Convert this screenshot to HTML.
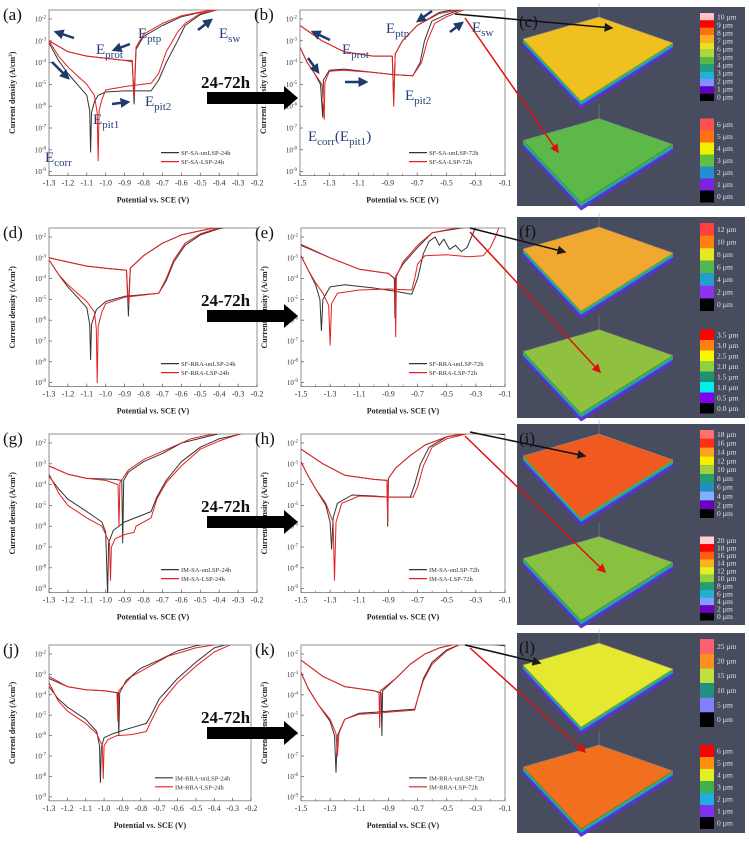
<!DOCTYPE html>
<html><head><meta charset="utf-8"><style>
html,body{margin:0;padding:0;background:#fff;}
svg{display:block;}
text{font-family:"Liberation Serif",serif;}
</style></head><body>
<svg id="fig" width="749" height="851" viewBox="0 0 749 851" xmlns="http://www.w3.org/2000/svg">
<defs>
<marker id="ahB" markerWidth="6" markerHeight="6" refX="5" refY="3" orient="auto"><path d="M0,0 L6,3 L0,6 z" fill="#1a1a1a"/></marker>
<marker id="ahR" markerWidth="6" markerHeight="6" refX="5" refY="3" orient="auto"><path d="M0,0 L6,3 L0,6 z" fill="#e01010"/></marker>
<marker id="ahN" markerWidth="4" markerHeight="4" refX="3" refY="2" orient="auto"><path d="M0,0 L4,2 L0,4 z" fill="#1f3a6e"/></marker>
</defs>
</svg>
<script>
// ---- data (potential V, log10 current density) ----
const aBlackFwd=[[-1.3,-3.1],[-1.25,-3.9],[-1.2,-4.5],[-1.15,-5],[-1.1,-5.5],[-1.085,-6.2],[-1.08,-8.1],[-1.075,-6.3],[-1.06,-5.8],[-1.04,-5.5],[-1.0,-5.35],[-0.9,-5.3],[-0.76,-5.3],[-0.72,-4.8],[-0.68,-4.0],[-0.62,-3.0],[-0.58,-2.3],[-0.5,-1.8],[-0.4,-1.55],[-0.3,-1.4]];
const aBlackRev=[[-0.3,-1.4],[-0.45,-1.6],[-0.6,-1.9],[-0.7,-2.3],[-0.8,-2.8],[-0.84,-3.4],[-0.85,-5.9],[-0.86,-3.95],[-0.9,-3.9],[-1.0,-3.8],[-1.1,-3.7],[-1.2,-3.5],[-1.3,-3.0]];
const aRedFwd=[[-1.3,-3.0],[-1.25,-3.7],[-1.2,-4.2],[-1.15,-4.6],[-1.1,-5.0],[-1.06,-5.5],[-1.045,-6.3],[-1.04,-8.5],[-1.035,-6.2],[-1.02,-5.7],[-1.0,-5.25],[-0.9,-5.1],[-0.76,-4.95],[-0.72,-4.5],[-0.68,-3.5],[-0.62,-2.6],[-0.58,-2.2],[-0.5,-1.75],[-0.4,-1.55],[-0.3,-1.4]];
const aRedRev=[[-0.3,-1.4],[-0.45,-1.6],[-0.6,-1.85],[-0.7,-2.2],[-0.8,-2.7],[-0.84,-3.3],[-0.85,-5.6],[-0.86,-3.9],[-0.9,-3.9],[-1.0,-3.8],[-1.1,-3.7],[-1.2,-3.5],[-1.3,-3.0]];

const bBlackFwd=[[-1.5,-3.3],[-1.45,-4.0],[-1.4,-4.5],[-1.36,-5.0],[-1.345,-6.5],[-1.34,-4.8],[-1.3,-4.35],[-1.2,-4.3],[-1.0,-4.45],[-0.86,-4.55],[-0.73,-4.6],[-0.68,-4.0],[-0.65,-3.0],[-0.6,-2.1],[-0.5,-1.8],[-0.35,-1.45],[-0.1,-1.55]];
const bBlackRev=[[-0.35,-1.45],[-0.55,-1.7],[-0.7,-2.3],[-0.8,-3.0],[-0.85,-3.6],[-0.86,-5.8],[-0.87,-3.7],[-1.0,-3.7],[-1.2,-3.5],[-1.35,-3.0],[-1.5,-2.3]];
const bRedFwd=[[-1.5,-3.3],[-1.45,-4.0],[-1.4,-4.5],[-1.35,-5.0],[-1.335,-6.6],[-1.33,-4.9],[-1.3,-4.4],[-1.2,-4.35],[-1.0,-4.45],[-0.86,-4.55],[-0.73,-4.6],[-0.67,-4.0],[-0.63,-3.0],[-0.58,-2.2],[-0.5,-1.9],[-0.35,-1.5],[-0.15,-1.4]];
const bRedRev=[[-0.35,-1.5],[-0.55,-1.75],[-0.7,-2.3],[-0.8,-3.0],[-0.85,-3.6],[-0.86,-6.0],[-0.87,-3.7],[-1.0,-3.7],[-1.2,-3.5],[-1.35,-3.0],[-1.5,-2.3]];

const dBlackFwd=[[-1.3,-3.1],[-1.25,-3.8],[-1.2,-4.4],[-1.15,-4.9],[-1.1,-5.4],[-1.085,-6.2],[-1.08,-7.9],[-1.075,-6.2],[-1.05,-5.5],[-1.0,-5.1],[-0.9,-4.85],[-0.72,-4.7],[-0.68,-4.1],[-0.64,-3.2],[-0.58,-2.4],[-0.5,-1.9],[-0.4,-1.6],[-0.3,-1.4]];
const dBlackRev=[[-0.3,-1.4],[-0.45,-1.6],[-0.6,-1.9],[-0.7,-2.3],[-0.8,-2.9],[-0.87,-3.5],[-0.88,-5.8],[-0.89,-3.6],[-1.0,-3.5],[-1.1,-3.4],[-1.2,-3.2],[-1.3,-3.0]];
const dRedFwd=[[-1.3,-3.1],[-1.25,-3.8],[-1.2,-4.3],[-1.15,-4.7],[-1.1,-5.1],[-1.06,-5.6],[-1.05,-6.4],[-1.045,-9.0],[-1.04,-6.3],[-1.02,-5.6],[-1.0,-5.2],[-0.9,-4.9],[-0.72,-4.7],[-0.68,-4.0],[-0.64,-3.1],[-0.58,-2.3],[-0.5,-1.85],[-0.4,-1.55],[-0.3,-1.4]];
const dRedRev=[[-0.3,-1.4],[-0.45,-1.6],[-0.6,-1.9],[-0.7,-2.3],[-0.8,-2.9],[-0.87,-3.5],[-0.88,-5.3],[-0.89,-3.6],[-1.0,-3.5],[-1.1,-3.4],[-1.2,-3.2],[-1.3,-3.0]];

const eBlackFwd=[[-1.5,-2.9],[-1.45,-3.6],[-1.4,-4.3],[-1.37,-5.0],[-1.36,-6.5],[-1.35,-5.0],[-1.3,-4.4],[-1.2,-4.3],[-1.0,-4.45],[-0.86,-4.6],[-0.74,-4.75],[-0.7,-4.0],[-0.66,-2.8],[-0.62,-2.2],[-0.58,-2.0],[-0.55,-2.4],[-0.52,-2.1],[-0.48,-2.6],[-0.44,-2.4],[-0.4,-2.7],[-0.36,-2.5],[-0.33,-2.0],[-0.3,-1.5],[-0.2,-1.4]];
const eBlackRev=[[-0.3,-1.45],[-0.6,-1.8],[-0.7,-2.5],[-0.8,-3.3],[-0.85,-3.9],[-0.855,-5.9],[-0.86,-4.0],[-0.9,-3.75],[-1.1,-3.55],[-1.3,-3.0],[-1.5,-2.4]];
const eRedFwd=[[-1.5,-2.9],[-1.45,-3.6],[-1.4,-4.2],[-1.35,-4.7],[-1.31,-5.3],[-1.3,-7.2],[-1.29,-5.2],[-1.25,-4.7],[-1.1,-4.55],[-0.9,-4.5],[-0.74,-4.55],[-0.72,-4.0],[-0.7,-3.3],[-0.65,-2.9],[-0.5,-2.85],[-0.35,-2.95],[-0.25,-2.9],[-0.2,-2.5],[-0.16,-1.9],[-0.13,-1.3]];
const eRedRev=[[-0.13,-1.3],[-0.35,-1.45],[-0.6,-1.8],[-0.7,-2.4],[-0.8,-3.2],[-0.845,-3.9],[-0.85,-6.8],[-0.855,-4.0],[-0.9,-3.75],[-1.1,-3.55],[-1.3,-3.0],[-1.5,-2.35]];

const gBlackFwd=[[-1.3,-3.6],[-1.25,-4.2],[-1.2,-4.7],[-1.1,-5.3],[-1.02,-5.8],[-1.0,-6.3],[-0.99,-9.3],[-0.985,-6.8],[-0.96,-6.2],[-0.9,-5.8],[-0.76,-5.3],[-0.73,-4.6],[-0.68,-3.8],[-0.6,-2.9],[-0.5,-2.2],[-0.4,-1.8],[-0.3,-1.6],[-0.2,-1.35]];
const gBlackRev=[[-0.2,-1.35],[-0.4,-1.55],[-0.6,-2.0],[-0.7,-2.5],[-0.8,-2.9],[-0.88,-3.4],[-0.905,-3.8],[-0.91,-6.8],[-0.915,-3.8],[-0.95,-3.75],[-1.1,-3.7],[-1.2,-3.5],[-1.3,-3.1]];
const gRedFwd=[[-1.3,-3.5],[-1.25,-4.4],[-1.2,-5.0],[-1.1,-5.6],[-1.02,-6.0],[-0.98,-6.8],[-0.975,-8.6],[-0.97,-7.0],[-0.95,-6.6],[-0.9,-6.4],[-0.85,-6.3],[-0.84,-6.0],[-0.76,-5.6],[-0.73,-4.7],[-0.68,-3.9],[-0.6,-3.1],[-0.5,-2.3],[-0.4,-1.9],[-0.3,-1.6],[-0.22,-1.35]];
const gRedRev=[[-0.22,-1.35],[-0.4,-1.5],[-0.55,-1.8],[-0.7,-2.4],[-0.8,-2.8],[-0.88,-3.3],[-0.925,-3.9],[-0.93,-6.0],[-0.935,-4.0],[-1.0,-3.8],[-1.1,-3.7],[-1.2,-3.5],[-1.3,-3.1]];

const hBlackFwd=[[-1.5,-2.9],[-1.45,-3.6],[-1.4,-4.2],[-1.33,-5.0],[-1.3,-5.8],[-1.29,-7.1],[-1.28,-5.6],[-1.25,-4.9],[-1.15,-4.5],[-1.0,-4.55],[-0.9,-4.6],[-0.75,-4.6],[-0.72,-4.0],[-0.68,-3.0],[-0.62,-2.2],[-0.5,-1.7],[-0.3,-1.45],[-0.1,-1.6]];
const hBlackRev=[[-0.3,-1.45],[-0.5,-1.7],[-0.65,-2.1],[-0.75,-2.6],[-0.85,-3.2],[-0.9,-3.7],[-0.905,-6.0],[-0.91,-3.8],[-1.0,-3.75],[-1.2,-3.55],[-1.35,-3.0],[-1.5,-2.3]];
const hRedFwd=[[-1.5,-2.9],[-1.45,-3.6],[-1.4,-4.2],[-1.33,-4.9],[-1.28,-5.8],[-1.27,-8.6],[-1.26,-5.8],[-1.22,-4.9],[-1.1,-4.55],[-0.9,-4.6],[-0.73,-4.6],[-0.7,-4.1],[-0.66,-3.1],[-0.6,-2.2],[-0.5,-1.8],[-0.3,-1.45],[-0.22,-1.4]];
const hRedRev=[[-0.22,-1.4],[-0.5,-1.7],[-0.65,-2.1],[-0.75,-2.6],[-0.85,-3.2],[-0.9,-3.7],[-0.905,-5.8],[-0.91,-3.8],[-1.0,-3.75],[-1.2,-3.55],[-1.35,-3.0],[-1.5,-2.3]];

const jBlackFwd=[[-1.3,-3.6],[-1.25,-4.2],[-1.2,-4.6],[-1.1,-5.2],[-1.04,-5.8],[-1.025,-6.5],[-1.02,-8.3],[-1.015,-6.6],[-1.0,-6.1],[-0.95,-5.9],[-0.9,-5.75],[-0.77,-5.4],[-0.75,-5.1],[-0.7,-4.2],[-0.6,-3.2],[-0.5,-2.4],[-0.4,-1.7],[-0.3,-1.45],[-0.2,-1.35]];
const jBlackRev=[[-0.35,-1.35],[-0.5,-1.6],[-0.6,-1.85],[-0.7,-2.3],[-0.8,-2.7],[-0.88,-3.3],[-0.915,-3.9],[-0.92,-6.0],[-0.925,-3.9],[-1.0,-3.8],[-1.1,-3.75],[-1.2,-3.6],[-1.3,-3.2]];
const jRedFwd=[[-1.3,-3.4],[-1.25,-4.3],[-1.2,-4.8],[-1.1,-5.4],[-1.04,-5.9],[-1.01,-6.5],[-1.005,-8.1],[-1.0,-6.5],[-0.98,-6.2],[-0.93,-6.0],[-0.85,-5.95],[-0.77,-5.8],[-0.75,-5.4],[-0.7,-4.5],[-0.6,-3.4],[-0.5,-2.6],[-0.4,-1.9],[-0.3,-1.5],[-0.2,-1.35]];
const jRedRev=[[-0.3,-1.4],[-0.5,-1.7],[-0.65,-2.1],[-0.75,-2.6],[-0.85,-3.1],[-0.92,-3.8],[-0.925,-5.3],[-0.93,-3.9],[-1.0,-3.8],[-1.1,-3.75],[-1.2,-3.6],[-1.3,-3.1]];

const kBlackFwd=[[-1.5,-2.9],[-1.45,-3.7],[-1.38,-4.5],[-1.3,-5.3],[-1.27,-6.0],[-1.26,-7.8],[-1.25,-6.0],[-1.2,-5.2],[-1.1,-4.9],[-0.98,-4.85],[-0.9,-4.8],[-0.72,-4.7],[-0.7,-4.2],[-0.66,-3.2],[-0.6,-2.4],[-0.5,-1.8],[-0.4,-1.5],[-0.3,-1.45],[-0.1,-1.6]];
const kBlackRev=[[-0.4,-1.45],[-0.55,-1.7],[-0.65,-2.0],[-0.75,-2.5],[-0.85,-3.2],[-0.94,-3.8],[-0.945,-6.0],[-0.95,-3.9],[-1.0,-3.8],[-1.2,-3.6],[-1.35,-3.1],[-1.5,-2.3]];
const kRedFwd=[[-1.5,-2.9],[-1.45,-3.7],[-1.38,-4.5],[-1.3,-5.2],[-1.26,-5.9],[-1.25,-7.0],[-1.24,-5.9],[-1.2,-5.2],[-1.1,-4.95],[-0.96,-4.9],[-0.9,-4.85],[-0.72,-4.75],[-0.7,-4.2],[-0.66,-3.3],[-0.6,-2.5],[-0.5,-1.85],[-0.4,-1.5],[-0.3,-1.45],[-0.12,-1.5]];
const kRedRev=[[-0.4,-1.45],[-0.55,-1.7],[-0.65,-2.0],[-0.75,-2.5],[-0.85,-3.2],[-0.955,-3.8],[-0.96,-5.6],[-0.965,-3.9],[-1.0,-3.8],[-1.2,-3.6],[-1.35,-3.1],[-1.5,-2.3]];

const leftTicks=[-1.3,-1.2,-1.1,-1.0,-0.9,-0.8,-0.7,-0.6,-0.5,-0.4,-0.3,-0.2];
const midTicks=[-1.5,-1.3,-1.1,-0.9,-0.7,-0.5,-0.3,-0.1];
const yTickExps=[-2,-3,-4,-5,-6,-7,-8,-9];
const legendA=['SF-SA-unLSP-24h','SF-SA-LSP-24h'];
const legendB=['SF-SA-unLSP-72h','SF-SA-LSP-72h'];
const legendD=['SF-RRA-unLSP-24h','SF-RRA-LSP-24h'];
const legendE=['SF-RRA-unLSP-72h','SF-RRA-LSP-72h'];
const legendG=['IM-SA-unLSP-24h','IM-SA-LSP-24h'];
const legendH=['IM-SA-unLSP-72h','IM-SA-LSP-72h'];
const legendJ=['IM-RRA-unLSP-24h','IM-RRA-LSP-24h'];
const legendK=['IM-RRA-unLSP-72h','IM-RRA-LSP-72h'];

const cTopLabels=['10 µm','9 µm','8 µm','7 µm','6 µm','5 µm','4 µm','3 µm','2 µm','1 µm','0 µm'];
const cTopColors=['#ffc0c8','#ff0000','#ff7010','#ffb020','#e8e020','#a8d840','#58b848','#20a080','#20b0d8','#8090ff','#6000c0','#000'];
const cBotLabels=['6 µm','5 µm','4 µm','3 µm','2 µm','1 µm','0 µm'];
const cBotColors=['#ff5050','#ff7010','#f0f000','#60c040','#2090d0','#8020e0','#000'];
const fTopLabels=['12 µm','10 µm','8 µm','6 µm','4 µm','2 µm','0 µm'];
const fTopColors=['#ff4040','#ff8010','#e8e820','#50b850','#20a0d0','#9030f0','#000'];
const fBotLabels=['3.5 µm','3.0 µm','2.5 µm','2.0 µm','1.5 µm','1.0 µm','0.5 µm','0.0 µm'];
const fBotColors=['#ff0000','#ff8010','#f8f800','#90d040','#209070','#00f0f0','#8000f0','#000'];
const iTopLabels=['18 µm','16 µm','14 µm','12 µm','10 µm','8 µm','6 µm','4 µm','2 µm','0 µm'];
const iTopColors=['#ff7070','#ff3010','#ffa020','#f8f000','#a0d040','#20a070','#2090c0','#80b0ff','#7000c0','#000'];
const iBotLabels=['20 µm','18 µm','16 µm','14 µm','12 µm','10 µm','8 µm','6 µm','4 µm','2 µm','0 µm'];
const iBotColors=['#ffd0d0','#ff0000','#ff6010','#ffb020','#e0f020','#90d040','#20a070','#20b0d0','#80a0ff','#7000c0','#000'];
const lTopLabels=['25 µm','20 µm','15 µm','10 µm','5 µm','0 µm'];
const lTopColors=['#ff6070','#ff9020','#c0e040','#209080','#8080ff','#000'];
const lBotLabels=['6 µm','5 µm','4 µm','3 µm','2 µm','1 µm','0 µm'];
const lBotColors=['#ff0000','#ff9010','#e0f020','#40b050','#20b0e0','#8030f0','#000'];

const rowY2=[19,237,443,654];
const rowDec=[21.8,20.8,20.8,20.4];
const NS='http://www.w3.org/2000/svg';
const svg=document.getElementById('fig');
function mk(tag,attrs,parent){const e=document.createElementNS(NS,tag);for(const k in attrs)e.setAttribute(k,attrs[k]);(parent||svg).appendChild(e);return e;}

function plot(id,row,x0,x1,emin,emax,ticks,minor,black,red,legend,letter){
  const y2=rowY2[row],dec=rowDec[row];
  const yS=l=>y2+(-2-l)*dec;
  const xS=e=>x0+(e-emin)/(emax-emin)*(x1-x0);
  const top=y2-9,bot=yS(-9)+4;
  const g=mk('g',{});
  
  
  const cp=mk('clipPath',{id:'cp'+id},g);
  mk('rect',{x:x0,y:top,width:x1-x0,height:bot-top},cp);
  const box=mk('rect',{x:x0,y:top,width:x1-x0,height:bot-top,fill:'none',stroke:'#777','stroke-width':0.8},g);
  
  
  // y ticks
  yTickExps.forEach(p=>{
    const y=yS(p);
    mk('line',{x1:x0,x2:x0+3,y1:y,y2:y,stroke:'#555','stroke-width':0.7},g);
    const t=mk('text',{x:x0-3,y:y+2.5,'font-size':7,'text-anchor':'end',fill:'#333'},g);
    
    
    t.textContent='10';
    const s=mk('tspan',{'font-size':5,dy:-3},t);s.textContent=String(p).replace('-','-');
  });
  // x ticks
  ticks.forEach(e=>{
    const x=xS(e);
    mk('line',{x1:x,x2:x,y1:bot,y2:bot-3,stroke:'#555','stroke-width':0.7},g);
    const t=mk('text',{x:x,y:bot+10,'font-size':8,'text-anchor':'middle',fill:'#333'},g);
    
    
    t.textContent=e.toFixed(1);
  });
  minor.forEach(e=>{const x=xS(e);mk('line',{x1:x,x2:x,y1:bot,y2:bot-2,stroke:'#555','stroke-width':0.6},g);});
  const xt=mk('text',{x:(x0+x1)/2,y:bot+27,'font-size':8,'font-weight':'bold','text-anchor':'middle',fill:'#222'},g);
  
  
  xt.textContent='Potential vs. SCE (V)';
  const yc=(top+bot)/2;
  const yt=mk('text',{x:0,y:0,'font-size':8,'font-weight':'bold','text-anchor':'middle',fill:'#222',transform:`translate(${x0-34},${yc}) rotate(-90)`},g);
  
  
  yt.innerHTML='Current density (A/cm<tspan font-size="5" dy="-3">2</tspan><tspan dy="3">)</tspan>';
  // curves
  const cg=mk('g',{'clip-path':`url(#cp${id})`},g);
  const draw=(pts,col,name)=>{
    const p=mk('polyline',{points:pts.map(q=>xS(q[0]).toFixed(1)+','+yS(q[1]).toFixed(1)).join(' '),fill:'none',stroke:col,'stroke-width':1,'stroke-linejoin':'round'},cg);
    
    
  };
  draw(black[0],'#333','black-forward-scan');draw(black[1],'#333','black-reverse-scan');
  draw(red[0],'#e62020','red-forward-scan');draw(red[1],'#e62020','red-reverse-scan');
  // legend
  const lx=x1-96,ly=bot-23;
  [['#333',legend[0]],['#e62020',legend[1]]].forEach((it,i)=>{
    const le=mk('g',{},g);
    
    
    mk('line',{x1:lx,x2:lx+18,y1:ly+i*9,y2:ly+i*9,stroke:it[0],'stroke-width':1.2},le);
    const t=mk('text',{x:lx+20,y:ly+i*9+2.5,'font-size':6.5,fill:'#333'},le);t.textContent=it[1];
  });
  const lt=mk('text',{x:x0-46,y:top+10,'font-size':17,fill:'#111'},g);
  
  
  lt.textContent='('+letter+')';
}
const leftMinor=[];
const midMinor=[-1.4,-1.2,-1.0,-0.8,-0.6,-0.4,-0.2];
plot('a',0,49,257,-1.3,-0.2,leftTicks,leftMinor,[aBlackFwd,aBlackRev],[aRedFwd,aRedRev],legendA,'a');
plot('b',0,300,505,-1.5,-0.1,midTicks,midMinor,[bBlackFwd,bBlackRev],[bRedFwd,bRedRev],legendB,'b');
plot('d',1,49,257,-1.3,-0.2,leftTicks,leftMinor,[dBlackFwd,dBlackRev],[dRedFwd,dRedRev],legendD,'d');
plot('e',1,301,505,-1.5,-0.1,midTicks,midMinor,[eBlackFwd,eBlackRev],[eRedFwd,eRedRev],legendE,'e');
plot('g',2,49,257,-1.3,-0.2,leftTicks,leftMinor,[gBlackFwd,gBlackRev],[gRedFwd,gRedRev],legendG,'g');
plot('h',2,301,505,-1.5,-0.1,midTicks,midMinor,[hBlackFwd,hBlackRev],[hRedFwd,hRedRev],legendH,'h');
plot('j',3,49,251,-1.3,-0.2,leftTicks,leftMinor,[jBlackFwd,jBlackRev],[jRedFwd,jRedRev],legendJ,'j');
plot('k',3,301,505,-1.5,-0.1,midTicks,midMinor,[kBlackFwd,kBlackRev],[kRedFwd,kRedRev],legendK,'k');

// 24-72h arrows
[0,1,2,3].forEach(r=>{
  const cy=rowY2[r]+79;
  const g=mk('g',{});
  
  
  mk('path',{d:`M207,${cy-6} L284,${cy-6} L284,${cy-12} L298,${cy} L284,${cy+12} L284,${cy+6} L207,${cy+6} z`,fill:'#000'},g);
  const t=mk('text',{x:201,y:cy-10,'font-size':17,'font-weight':'bold',fill:'#111'},g);t.textContent='24-72h';
});

// right 3D panels
function surf(g,ox,oy,col,edge){
  // parallelogram top + base bands
  const L=[ox+4,oy+26],T=[ox+80,oy+4],R=[ox+154,oy+30],B=[ox+62,oy+88];
  const bands=['#3cb850','#20a0d0','#4040d0','#6a2ad0'];
  bands.forEach((c,i)=>{const d=(i+1)*2;mk('path',{d:`M${L[0]},${L[1]+d-2} L${B[0]},${B[1]+d-2} L${R[0]},${R[1]+d-2} L${R[0]},${R[1]+d} L${B[0]},${B[1]+d} L${L[0]},${L[1]+d} z`,fill:c},g);});
  mk('path',{d:`M${L} L${T} L${R} L${B} z`,fill:col,stroke:edge,'stroke-width':0.5},g);
  mk('path',{d:`M${L} L${T} L${T[0]},${T[1]-14} M${T} L${R}`,fill:'none',stroke:'#8890a0','stroke-width':0.5},g);
}
function bar(g,x,y,h,labels,colors){
  const n=colors.length,sh=h/n;
  colors.forEach((c,i)=>mk('rect',{x:x,y:y+i*sh,width:14,height:sh,fill:c},g));
  labels.forEach((l,i)=>{
    const t=mk('text',{x:x+17,y:y+(i+0.5)*(h/labels.length)+2.5,'font-size':7.5,fill:'#dfe3ee','font-family':'Liberation Sans, sans-serif'},g);
    t.textContent=l;
  });
}
function panel3d(letter,y0,h,topCol,botCol,tl,tc,bl,bc){
  const g=mk('g',{});
  
  
  mk('rect',{x:517,y:y0,width:228,height:h,fill:'#474c5f'},g);
  surf(g,519,y0+6,topCol,'#c08020');
  surf(g,519,y0+h/2+8,botCol,'#406030');
  bar(g,700,y0+6,88,tl,tc);
  bar(g,700,y0+h/2+12,84,bl,bc);
  const t=mk('text',{x:519,y:y0+20,'font-size':17,fill:'#111'},g);t.textContent='('+letter+')';
}
panel3d('c',7,199,'#f0c020','#5cb848',cTopLabels,cTopColors,cBotLabels,cBotColors);
panel3d('f',217,201,'#f0a830','#90c040',fTopLabels,fTopColors,fBotLabels,fBotColors);
panel3d('i',424,201,'#f05a20','#88c040',iTopLabels,iTopColors,iBotLabels,iBotColors);
panel3d('l',633,200,'#e4e830','#f07020',lTopLabels,lTopColors,lBotLabels,lBotColors);

// connector arrows
const con=[[455,14,612,28,465,18,558,152],[470,228,565,252,470,232,600,372],[470,432,585,456,465,436,605,572],[465,645,540,663,470,648,585,752]];
con.forEach(c=>{
  const a=mk('line',{x1:c[0],y1:c[1],x2:c[2],y2:c[3],stroke:'#111','stroke-width':1.5,'marker-end':'url(#ahB)'});
  
  const b=mk('line',{x1:c[4],y1:c[5],x2:c[6],y2:c[7],stroke:'#e01010','stroke-width':1.5,'marker-end':'url(#ahR)'});
  
});

// annotations in (a) and (b)
function ann(x,y,main,sub,extra){
  const t=mk('text',{x:x,y:y,'font-size':15,fill:'#24407a'});
  
  
  t.innerHTML=main+'<tspan font-size="11" dy="4">'+sub+'</tspan>'+(extra||'');
}
ann(45,162,'E','corr');ann(93,124,'E','pit1');ann(145,106,'E','pit2');ann(96,54,'E','prot');ann(138,38,'E','ptp');ann(219,38,'E','sw');
ann(342,54,'E','prot');ann(386,33,'E','ptp');ann(472,32,'E','sw');ann(405,100,'E','pit2');
ann(308,141,'E','corr','<tspan dy="-4">(E</tspan><tspan font-size="11" dy="4">pit1</tspan><tspan dy="-4">)</tspan>');
const arr=[[74,38,56,32],[52,62,68,78],[112,104,128,102],[130,44,114,50],[198,30,211,20],[330,40,313,32],[308,58,318,72],[345,82,366,82],[432,11,418,21],[450,32,462,23]];
arr.forEach(a=>{const l=mk('line',{x1:a[0],y1:a[1],x2:a[2],y2:a[3],stroke:'#1f3a6e','stroke-width':2.5,'marker-end':'url(#ahN)'});
  });
</script>
</body></html>
